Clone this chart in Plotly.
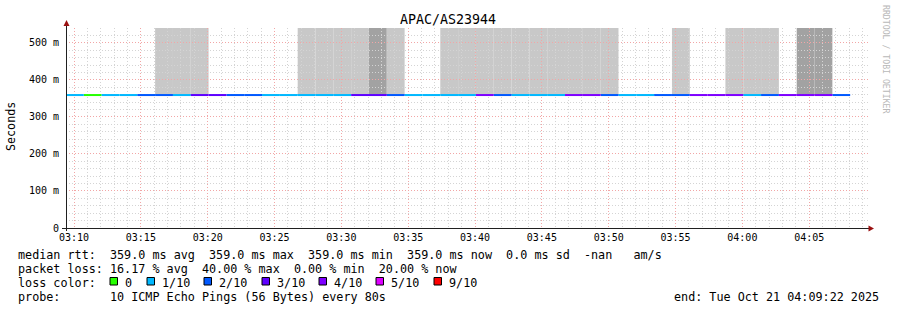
import plotly.graph_objects as go
import pandas as pd

# ---------------- data ----------------
title_text = "APAC/AS23944"
start_time = "2025-10-21 03:09:24"
step_seconds = 80
range_end = "2025-10-21 04:09:24"

# loss per 80 s step, in tenths (10 pings per step)
loss_tenths = [1, 0, 1, 1, 2, 2, 1, 3, 3, 2, 2, 1, 1, 1, 1, 1, 3, 3, 2, 1, 1, 1,
               1, 4, 2, 1, 1, 1, 4, 4, 2, 1, 1, 2, 2, 4, 4, 4, 1, 2, 4, 4, 4, 2]
# median rtt per step (ms)
median_ms = [359.0, 359.0, 359.0, 359.0, 359.0, 359.0, 359.0, 359.0, 359.0, 359.0, 359.0,
             359.0, 359.0, 359.0, 359.0, 359.0, 359.0, 359.0, 359.0, 359.0, 359.0, 359.0,
             359.0, 359.0, 359.0, 359.0, 359.0, 359.0, 359.0, 359.0, 359.0, 359.0, 359.0,
             359.0, 359.0, 359.0, 359.0, 359.0, 359.0, 359.0, 359.0, 359.0, 359.0, 359.0]
# smoke density per step (0 none, 1 light, 2 dense)
smoke_level = [0, 0, 0, 0, 0, 1, 1, 1, 0, 0, 0, 0, 0, 1, 1, 1, 1, 2, 1, 0, 0, 1,
               1, 1, 1, 1, 1, 1, 1, 1, 1, 0, 0, 0, 1, 0, 0, 1, 1, 1, 0, 2, 2, 0]

loss_keys = [0, 1, 2, 3, 4, 5, 9]
loss_labels = ["0", "1/10", "2/10", "3/10", "4/10", "5/10", "9/10"]
loss_colors = ["#26ff00", "#00b8ff", "#0059ff", "#5e00ff", "#7e00ff", "#dd00ff", "#ff0000"]

y_tick_vals = [0, 100, 200, 300, 400, 500]
y_tick_text = ["0", "100 m", "200 m", "300 m", "400 m", "500 m"]
y_max = 540

legend_rows = [
    "median rtt:  359.0 ms avg  359.0 ms max  359.0 ms min  359.0 ms now  0.0 ms sd  -nan   am/s",
    "packet loss: 16.17 % avg  40.00 % max  0.00 % min  20.00 % now",
    "loss color:",
    "probe:       10 ICMP Echo Pings (56 Bytes) every 80s",
]
end_text = "end: Tue Oct 21 04:09:22 2025"
watermark = "RRDTOOL / TOBI OETIKER"
y_title = "Seconds"

# ---------------- layout helpers ----------------
W, H = 897, 310
L, R, T, B = 66, 868, 28, 228
MONO = "DejaVu Sans Mono"


def px(x):
    return (x - L) / (R - L)


def py(y):
    return (B - y) / (B - T)


def nb(s):
    return s.replace(" ", "\u00a0")


t0 = pd.Timestamp(start_time)
edges = [t0 + pd.Timedelta(seconds=step_seconds * k) for k in range(len(loss_tenths) + 1)]

fig = go.Figure()

# median line coloured by loss
for key, col in zip(loss_keys, loss_colors):
    xs, ys = [], []
    for k, lv in enumerate(loss_tenths):
        if lv == key:
            xs += [edges[k], edges[k + 1], None]
            ys += [median_ms[k], median_ms[k], None]
    if xs:
        fig.add_trace(go.Scatter(x=xs, y=ys, mode="lines",
                                 line=dict(color=col, width=2),
                                 hoverinfo="skip", showlegend=False))

shapes = []
smoke_colors = {1: "#c8c8c8", 2: "#a2a2a2"}
for k, lv in enumerate(smoke_level):
    if lv:
        shapes.append(dict(type="rect", xref="x", yref="y", layer="below",
                           x0=edges[k], x1=edges[k + 1], y0=median_ms[k], y1=y_max,
                           fillcolor=smoke_colors[lv], line=dict(width=0)))

axis_col = "#202020"
arrow_col = "#9a1010"
# axis lines
shapes.append(dict(type="line", xref="paper", yref="paper", layer="above",
                   x0=px(66.5), x1=px(66.5), y0=py(231), y1=py(24),
                   line=dict(color=axis_col, width=1)))
shapes.append(dict(type="line", xref="paper", yref="paper", layer="above",
                   x0=px(62), x1=px(870), y0=py(228.5), y1=py(228.5),
                   line=dict(color=axis_col, width=1)))
# arrows
shapes.append(dict(type="path", xref="paper", yref="paper", layer="above",
                   path=f"M {px(66.5)},{py(20)} L {px(63.5)},{py(26)} L {px(69.5)},{py(26)} Z",
                   fillcolor=arrow_col, line=dict(width=0)))
shapes.append(dict(type="path", xref="paper", yref="paper", layer="above",
                   path=f"M {px(874)},{py(228.5)} L {px(868.5)},{py(225.5)} L {px(868.5)},{py(231.5)} Z",
                   fillcolor=arrow_col, line=dict(width=0)))

annotations = []
row_y = [254.5, 268.5, 282.5, 296.5]
for txt, yy in zip(legend_rows, row_y):
    annotations.append(dict(text=nb(txt), xref="paper", yref="paper", x=px(16), y=py(yy),
                            xanchor="left", yanchor="middle", showarrow=False,
                            font=dict(family=MONO, size=11.75, color="#000")))
annotations.append(dict(text=nb(end_text), xref="paper", yref="paper", x=px(881), y=py(296.5),
                        xanchor="right", yanchor="middle", showarrow=False,
                        font=dict(family=MONO, size=11.75, color="#000")))

# loss colour legend swatches
label_x = [123, 160, 217, 275, 332, 389, 447]
for lab, col, lx in zip(loss_labels, loss_colors, label_x):
    shapes.append(dict(type="rect", xref="paper", yref="paper", layer="above",
                       x0=px(lx - 13), x1=px(lx - 5.5), y0=py(285), y1=py(277.5),
                       fillcolor=col, line=dict(color="#000", width=1)))
    annotations.append(dict(text=lab, xref="paper", yref="paper", x=px(lx), y=py(282.5),
                            xanchor="left", yanchor="middle", showarrow=False,
                            font=dict(family=MONO, size=11.75, color="#000")))

annotations.append(dict(text=y_title, xref="paper", yref="paper", x=px(11), y=py(127),
                        textangle=-90, xanchor="center", yanchor="middle", showarrow=False,
                        font=dict(family=MONO, size=11.7, color="#000")))
annotations.append(dict(text=nb(watermark), xref="paper", yref="paper", x=px(886), y=py(59),
                        textangle=90, xanchor="center", yanchor="middle", showarrow=False,
                        font=dict(family=MONO, size=8.2, color="#b8b8b8")))
annotations.append(dict(text=title_text, xref="paper", yref="paper", x=px(448), y=py(19),
                        xanchor="center", yanchor="middle", showarrow=False,
                        font=dict(family=MONO, size=13.3, color="#000")))

minor_grid = "#d4d4d4"
major_grid = "#f2a6a6"

fig.update_layout(
    width=W, height=H,
    margin=dict(l=L, r=W - R, t=T, b=H - B, pad=0),
    paper_bgcolor="white", plot_bgcolor="white",
    showlegend=False,
    shapes=shapes, annotations=annotations,
    xaxis=dict(type="date", range=[t0, pd.Timestamp(range_end)],
               dtick=300000, tick0="2025-10-21 03:10:00", tickformat="%H:%M",
               showgrid=True, gridcolor=major_grid, griddash="1px,2px", gridwidth=1,
               minor=dict(dtick=60000, tick0="2025-10-21 03:10:00", showgrid=True,
                          gridcolor=minor_grid, griddash="1px,2px", gridwidth=1),
               showline=False, zeroline=False, ticks="",
               tickfont=dict(family=MONO, size=10, color="#000"),
               ticklabelstandoff=2, fixedrange=True),
    yaxis=dict(range=[0, y_max], tickvals=y_tick_vals, ticktext=y_tick_text,
               showgrid=True, gridcolor=major_grid, griddash="1px,2px", gridwidth=1,
               minor=dict(dtick=20, tick0=0, showgrid=True,
                          gridcolor=minor_grid, griddash="1px,2px", gridwidth=1),
               showline=False, zeroline=False, ticks="",
               tickfont=dict(family=MONO, size=10, color="#000"),
               ticklabelstandoff=6, fixedrange=True),
)

fig.write_html("out.html")
